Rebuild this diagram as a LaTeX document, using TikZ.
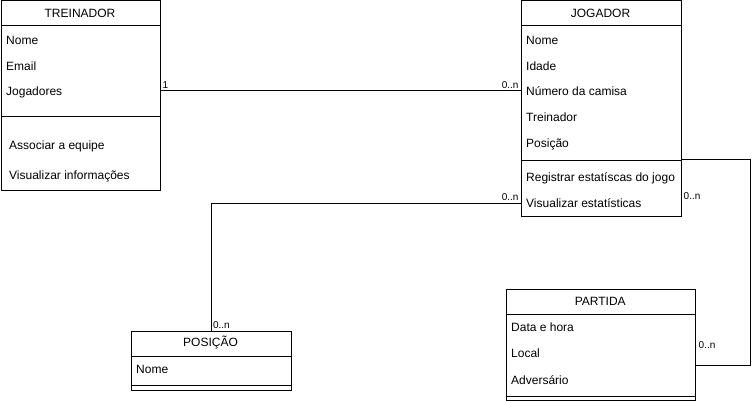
\documentclass[tikz,border=0pt]{standalone}
\usepackage{fontspec}
\setmainfont{Liberation Sans}
\usetikzlibrary{positioning, calc}

\tikzset{
  classbox/.style={draw, line width=1pt, anchor=north west, inner sep=0pt},
  classname/.style={font=\fontsize{12}{14}\selectfont, inner sep=0pt},
  member/.style={font=\fontsize{12}{14}\selectfont, anchor=west, inner sep=0pt,
    text height=8.6pt, text depth=0pt},
  mult/.style={font=\fontsize{10}{12}\selectfont, inner sep=1.5pt},
  assoc/.style={line width=1pt},
}

\begin{document}
\begin{tikzpicture}[x=1pt, y=-1pt]
  \useasboundingbox (0,0) rectangle (752,401);

  % TREINADOR
  \node[classbox, minimum width=159pt, minimum height=189.5pt] (treinador) at (0.5,0.5) {};
  \node[classname] (trName) at (80,13.5) {TREINADOR};
  \draw[assoc] (treinador.west |- 0,26) -- (treinador.east |- 0,26);
  \draw[assoc] (treinador.west |- 0,117) -- (treinador.east |- 0,117);
  \foreach \txt/\yy [count=\i] in {Nome/40, Email/66, Jogadores/91}
    \node[member] (tr\i) at (6,\yy) {\txt};
  \foreach \txt/\yy [count=\i] in {Associar a equipe/145, Visualizar informações/175}
    \node[member] (trOp\i) at (9,\yy) {\txt};

  % JOGADOR
  \node[classbox, minimum width=160pt, minimum height=215.5pt] (jogador) at (520.5,0.5) {};
  \node[classname] (jgName) at (600.5,13.5) {JOGADOR};
  \draw[assoc] (jogador.west |- 0,26) -- (jogador.east |- 0,26);
  \draw[assoc] (jogador.west |- 0,160) -- (jogador.east |- 0,160);
  \foreach \txt/\yy [count=\i] in {Nome/40, Idade/66, Número da camisa/91,
      Treinador/117, Posição/143, Registrar estatíscas do jogo/177,
      Visualizar estatísticas/203}
    \node[member] (jg\i) at (526,\yy) {\txt};

  % POSIÇÃO
  \node[classbox, minimum width=160pt, minimum height=59.5pt] (posicao) at (130.5,330.5) {};
  \node[classname] (psName) at (210.5,343) {POSIÇÃO};
  \draw[assoc] (posicao.west |- 0,356) -- (posicao.east |- 0,356);
  \draw[assoc] (posicao.west |- 0,385) -- (posicao.east |- 0,385);
  \node[member] (ps1) at (136,369) {Nome};

  % PARTIDA
  \node[classbox, minimum width=189.5pt, minimum height=111pt] (partida) at (505.5,289) {};
  \node[classname] (ptName) at (600.25,301.5) {PARTIDA};
  \draw[assoc] (partida.west |- 0,314) -- (partida.east |- 0,314);
  \draw[assoc] (partida.west |- 0,396) -- (partida.east |- 0,396);
  \foreach \txt/\yy [count=\i] in {Data e hora/327, Local/353, Adversário/380}
    \node[member] (pt\i) at (511,\yy) {\txt};

  % associations
  \draw[assoc] (treinador.east |- jg3) -- (jogador.west |- jg3)
    node[mult, pos=0, anchor=south west] (mTr) {1}
    node[mult, pos=1, anchor=south east] (mJg1) {0..n};

  \draw[assoc] (posicao.north) |- (jogador.west |- jg7)
    node[mult, pos=0, anchor=south west] (mPs) {0..n}
    node[mult, pos=1, anchor=south east] (mJg2) {0..n};

  \coordinate (jgSep) at (jogador.east |- 0,159);
  \coordinate (ptIn) at (partida.east |- 0,365);
  \draw[assoc] (jgSep) -- ++(69,0) |- (ptIn);
  \node[mult, anchor=west] (mJg3) at (682,196) {0..n};
  \node[mult, anchor=west] (mPt) at (697,345) {0..n};
\end{tikzpicture}
\end{document}
